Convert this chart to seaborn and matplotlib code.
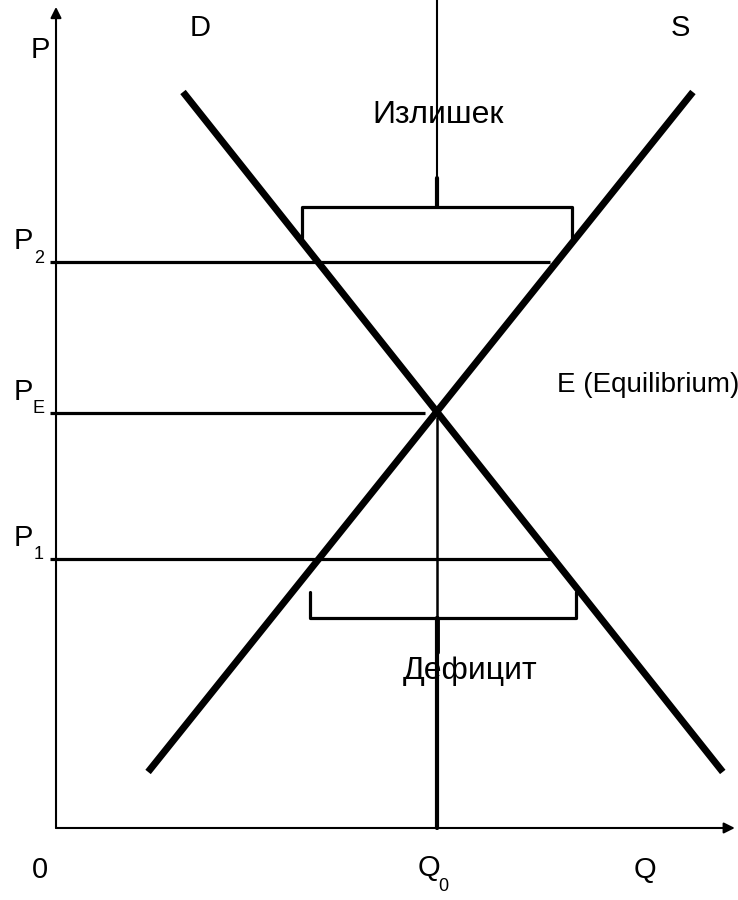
import numpy as np
import pandas as pd
import seaborn as sns
import matplotlib.pyplot as plt

# --- data (Q, P in chart units) ---
demand_q = [2.00, 10.50]
demand_p = [10.64, 0.81]
supply_q = [1.45, 10.03]
supply_p = [0.81, 10.64]

q0 = 6.0
p_eq = 6.0
p2 = 8.18
p1 = 3.89
p_levels = [p2, p_eq, p1]
p_line_ends = [7.78, 5.81, 7.83]
p_names = ["P", "P", "P"]
p_subs = ["2", "E", "1"]

surplus_q = [3.87, 8.13]     # bracket span over P2
surplus_p = [8.53, 8.98, 9.40]
deficit_q = [4.00, 8.19]     # bracket span under P1
deficit_p = [3.41, 3.04, 2.55]

q_max, p_max = 10.69, 11.87

sns.set_style("white")
plt.rcParams['font.family'] = ['Liberation Sans', 'DejaVu Sans']
plt.rcParams['text.color'] = 'black'

fig = plt.figure(figsize=(7.38, 9), dpi=100)
ax = fig.add_axes([0, 0, 1, 1])
ax.set_xlim(-0.882, 10.74)
ax.set_ylim(-1.041, 11.97)
ax.axis('off')

curves = pd.DataFrame({
    "Q": demand_q + supply_q,
    "P": demand_p + supply_p,
    "curve": ["D", "D", "S", "S"],
})
sns.lineplot(data=curves, x="Q", y="P", units="curve", estimator=None,
             color="black", lw=5, sort=False, ax=ax, legend=False,
             solid_capstyle="butt")

# axes with arrows
arrow = dict(arrowstyle='-|>', lw=1.5, color='black', mutation_scale=16,
             shrinkA=0, shrinkB=0)
ax.annotate('', xy=(0, p_max), xytext=(0, 0), arrowprops=arrow)
ax.annotate('', xy=(q_max, 0), xytext=(0, 0), arrowprops=arrow)

# price levels
for p, end in zip(p_levels, p_line_ends):
    ax.plot([-0.1, end], [p, p], color='black', lw=2.3, solid_capstyle='butt')

# Q0 line: below equilibrium, and above the surplus bracket
ax.plot([q0, q0], [0, p_eq - 0.07], color='black', lw=1.8)
ax.plot([q0, q0], [0, deficit_p[1]], color='black', lw=3)
ax.plot([q0, q0], [surplus_p[1], 11.97], color='black', lw=1.5)

# brackets
ax.plot([surplus_q[0], surplus_q[0], surplus_q[1], surplus_q[1]],
        [surplus_p[0], surplus_p[1], surplus_p[1], surplus_p[0]],
        color='black', lw=2.3, solid_joinstyle='round')
ax.plot([q0, q0], [surplus_p[1], surplus_p[2]], color='black', lw=3)
ax.plot([deficit_q[0], deficit_q[0], deficit_q[1], deficit_q[1]],
        [deficit_p[0], deficit_p[1], deficit_p[1], deficit_p[0]],
        color='black', lw=2.3, solid_joinstyle='round')
ax.plot([q0, q0], [deficit_p[1], deficit_p[2]], color='black', lw=3.5)

fs = 21
cyr = 23
sub = 13
ax.text(-0.25, 11.25, "P", fontsize=fs, ha='center', va='center')
ax.text(2.27, 11.57, "D", fontsize=fs, ha='center', va='center')
ax.text(9.83, 11.57, "S", fontsize=fs, ha='center', va='center')
ax.text(6.02, 10.31, "Излишек", fontsize=cyr, ha='center', va='center')
ax.text(7.89, 6.4, "E (Equilibrium)", fontsize=20, ha='left', va='center')
ax.text(6.52, 2.27, "Дефицит", fontsize=cyr, ha='center', va='center')

for p, name, s in zip(p_levels, p_names, p_subs):
    ax.text(-0.52, p + 0.3, name, fontsize=fs, ha='center', va='center')
    ax.text(-0.27, p + 0.06, s, fontsize=sub, ha='center', va='center')

ax.text(-0.25, -0.61, "0", fontsize=fs, ha='center', va='center')
ax.text(5.87, -0.58, "Q", fontsize=fs, ha='center', va='center')
ax.text(6.1, -0.85, "0", fontsize=sub, ha='center', va='center')
ax.text(9.28, -0.61, "Q", fontsize=fs, ha='center', va='center')

fig.savefig("out.png", dpi=100)
